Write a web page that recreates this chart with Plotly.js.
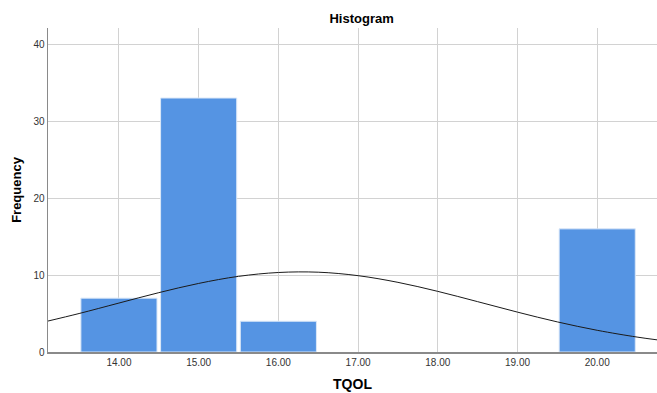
<!DOCTYPE html>
<html>
<head>
<meta charset="utf-8">
<script src="https://cdn.plot.ly/plotly-3.0.1.min.js"></script>
<style>html,body{margin:0;padding:0;background:#fff;}#chart{width:657px;height:393px;}</style>
</head>
<body>
<div id="chart"></div>
<script>
// Histogram bins (TQOL value) and frequencies
const binCenters = [14, 15, 16, 17, 18, 19, 20];
const frequencies = [7, 33, 4, 0, 0, 0, 16];

// Normal curve
const curveX = [13.1, 13.5, 14.0, 14.5, 15.0, 15.5, 16.0, 16.5, 17.0, 17.5, 18.0, 18.5, 19.0, 19.5, 20.0, 20.5, 20.75];
const curveY = [4.0, 5.0, 6.36, 7.71, 8.91, 9.83, 10.33, 10.37, 9.92, 9.05, 7.88, 6.54, 5.18, 3.91, 2.82, 1.94, 1.58];

// Tick labels
const xTickVals = [14, 15, 16, 17, 18, 19, 20];
const xTickText = ["14.00", "15.00", "16.00", "17.00", "18.00", "19.00", "20.00"];
const yTickVals = [0, 10, 20, 30, 40];

// empty bins draw nothing
const barX = binCenters.filter((_, i) => frequencies[i] > 0);
const barY = frequencies.filter(v => v > 0);

const traces = [
  {
    type: 'bar',
    x: barX,
    y: barY,
    width: 0.955,
    marker: {color: '#5594e3', line: {color: '#dbe8f8', width: 1}},
    hoverinfo: 'x+y'
  },
  {
    type: 'scatter',
    mode: 'lines',
    x: curveX,
    y: curveY,
    line: {color: '#1a1a1a', width: 1, shape: 'spline'},
    hoverinfo: 'skip'
  }
];

const layout = {
  width: 657,
  height: 393,
  margin: {l: 48, r: 0, t: 28, b: 41},
  paper_bgcolor: '#ffffff',
  plot_bgcolor: '#ffffff',
  showlegend: false,
  bargap: 0,
  font: {family: 'Liberation Sans, Arial, sans-serif', color: '#222'},
  title: {
    text: 'Histogram',
    font: {size: 13, color: '#000', weight: 'bold'},
    x: 0.515, xref: 'paper', xanchor: 'center',
    y: 0.953, yref: 'container', yanchor: 'middle'
  },
  xaxis: {
    range: [13.11, 20.75],
    tickvals: xTickVals,
    ticktext: xTickText,
    tickfont: {size: 10, color: '#333'},
    showgrid: true,
    gridcolor: '#d2d2d2',
    gridwidth: 1,
    showline: true,
    linecolor: '#8a8a8a',
    linewidth: 1.5,
    ticks: '',
    zeroline: false,
    fixedrange: true,
    title: {text: 'TQOL', font: {size: 14, color: '#000', weight: 'bold'}, standoff: 12}
  },
  yaxis: {
    range: [0, 42.1],
    tickvals: yTickVals,
    tickfont: {size: 10, color: '#333'},
    showgrid: true,
    gridcolor: '#d2d2d2',
    gridwidth: 1,
    showline: true,
    linecolor: '#8a8a8a',
    linewidth: 1.5,
    ticks: '',
    zeroline: false,
    fixedrange: true,
    title: {text: 'Frequency', font: {size: 13, color: '#000', weight: 'bold'}, standoff: 9}
  }
};

Plotly.newPlot('chart', traces, layout, {displayModeBar: false, staticPlot: true});
</script>
</body>
</html>
